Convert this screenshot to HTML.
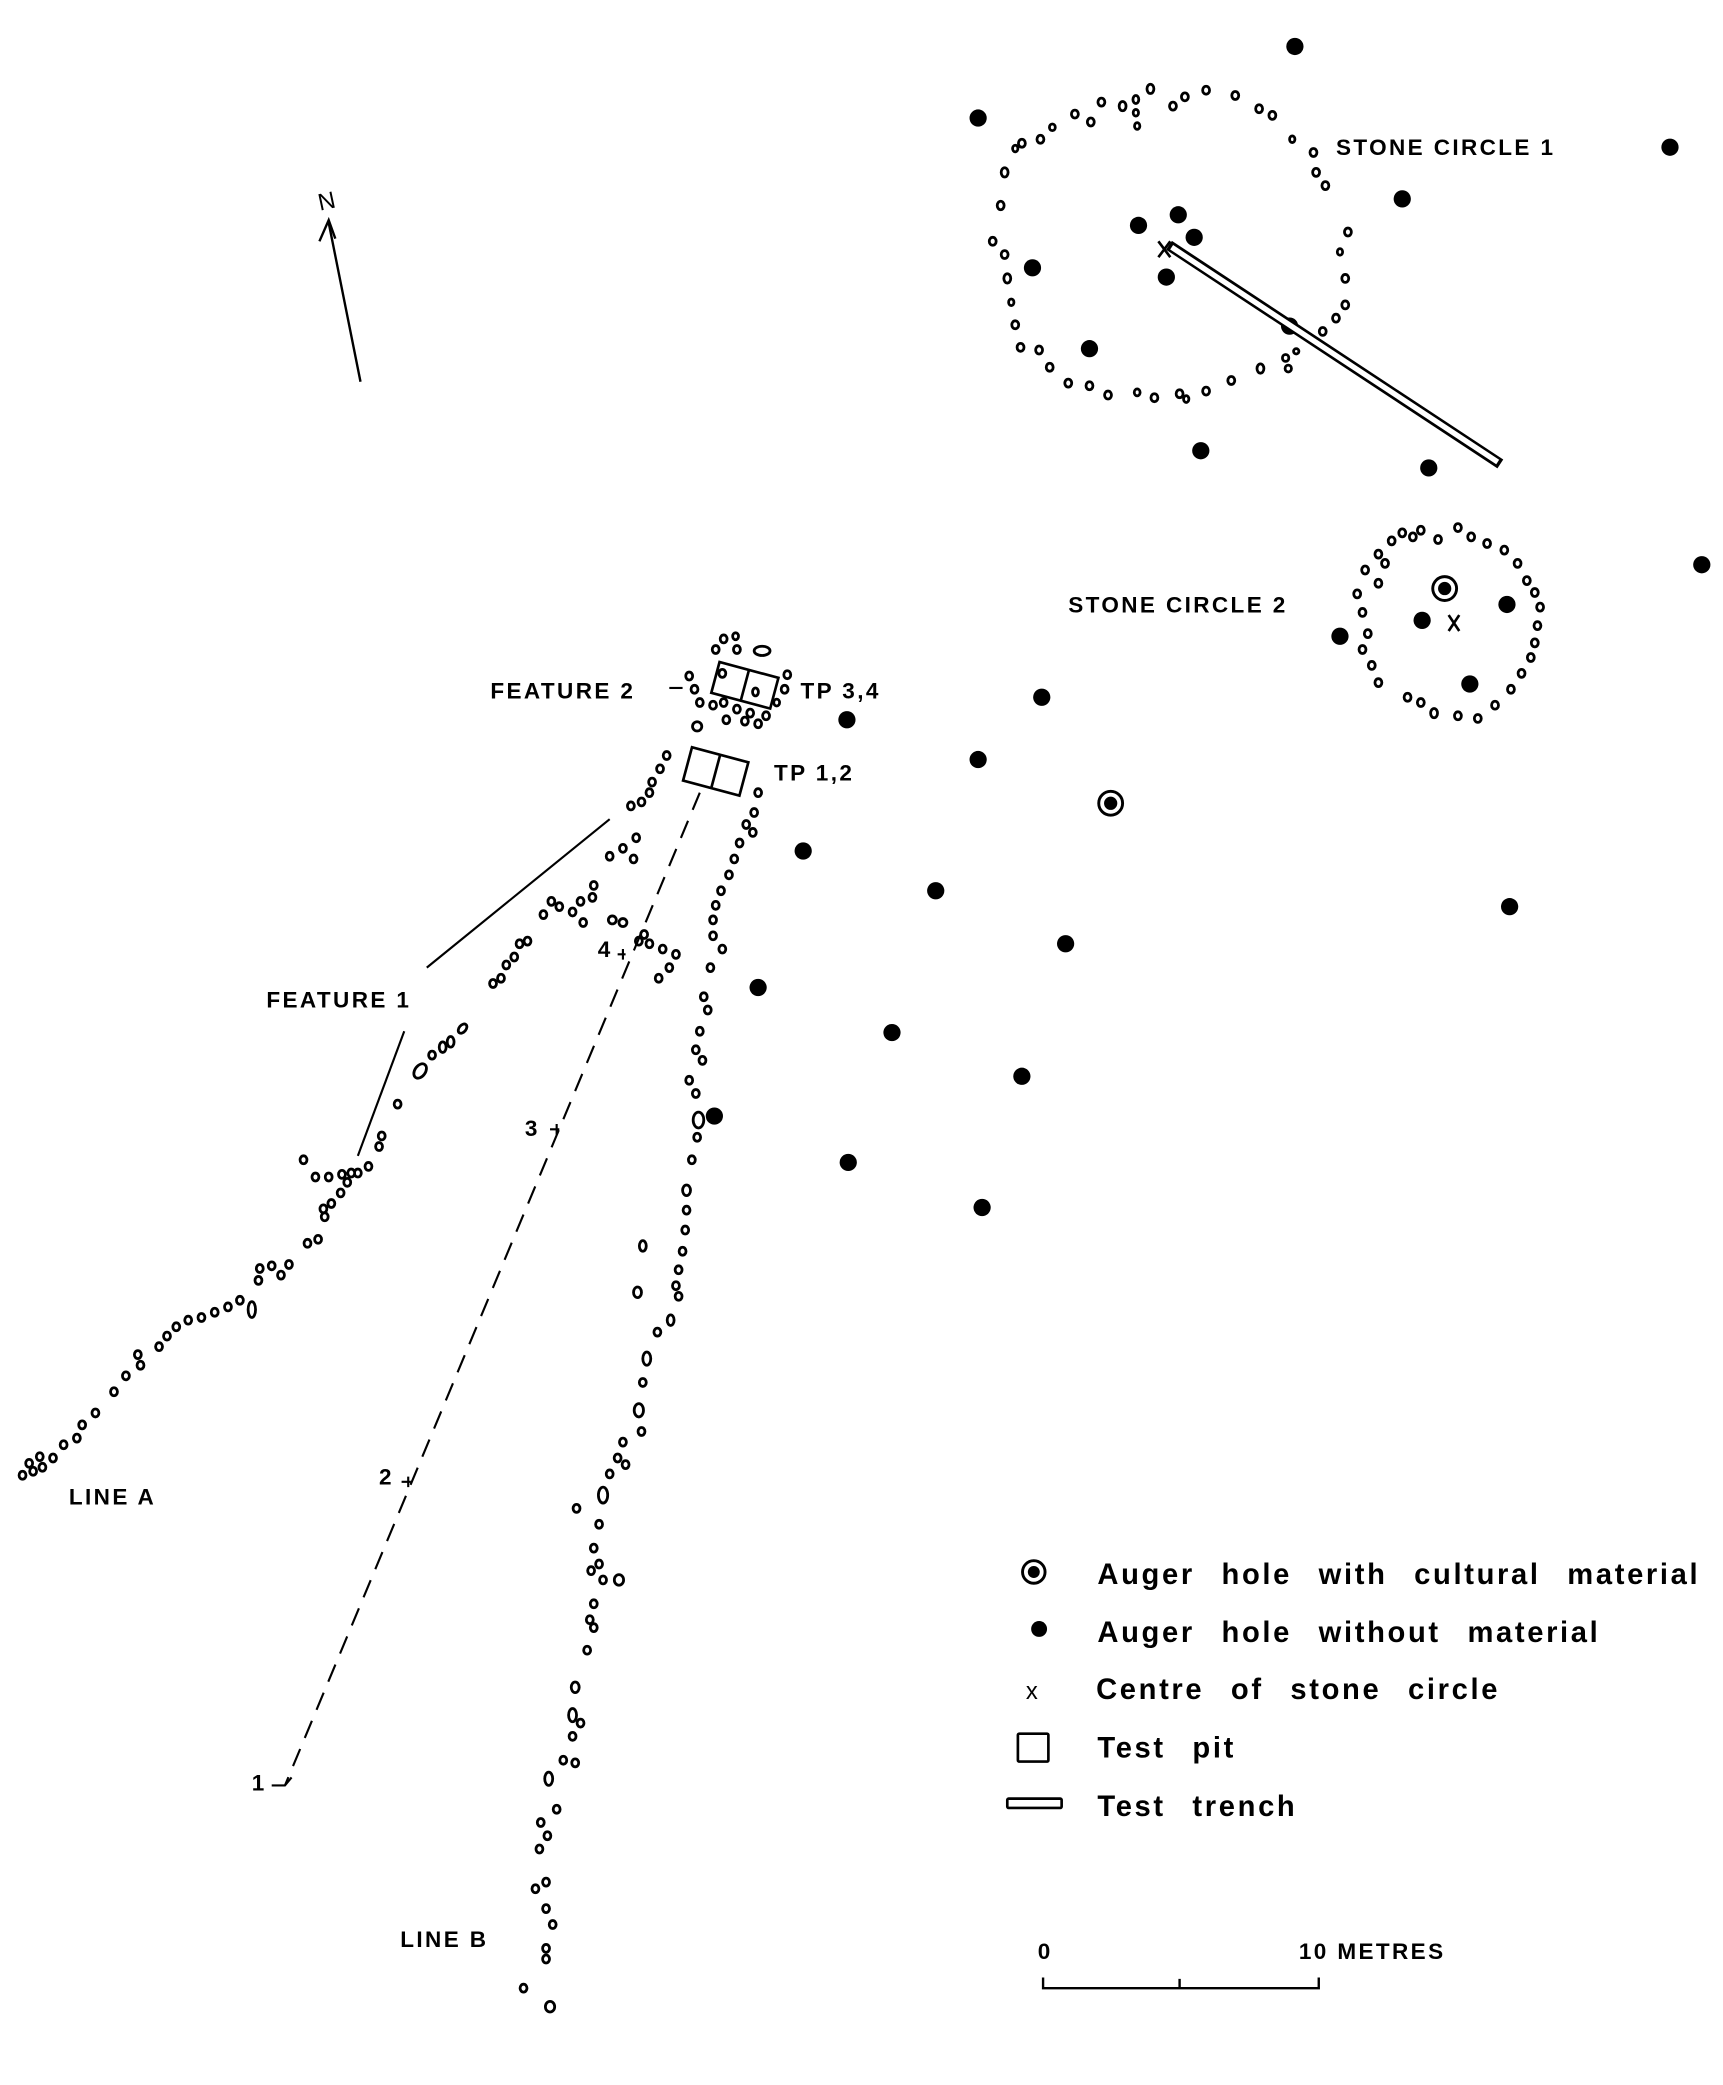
<!DOCTYPE html>
<html><head><meta charset="utf-8"><style>html,body{margin:0;padding:0;background:#fff}svg{display:block}text{font-family:"Liberation Sans",sans-serif;fill:#000}</style></head><body>
<svg width="1723" height="2085" viewBox="0 0 1300 1573" xmlns="http://www.w3.org/2000/svg">
<rect width="1300" height="1573" fill="#fff"/>
<g fill="#fff" stroke="#000" stroke-width="2.1" id="stones">
<g>
<ellipse cx="758" cy="130" rx="2.6" ry="3.5"/><ellipse cx="755" cy="155" rx="2.6" ry="3.2"/><ellipse cx="749" cy="182" rx="2.6" ry="3"/><ellipse cx="758" cy="192" rx="2.6" ry="3"/><ellipse cx="760" cy="210" rx="2.6" ry="3.5"/><ellipse cx="763" cy="228" rx="2" ry="2.5"/><ellipse cx="766" cy="245" rx="2.6" ry="3"/><ellipse cx="770" cy="262" rx="2.6" ry="3"/><ellipse cx="784" cy="264" rx="2.6" ry="3"/><ellipse cx="792" cy="277" rx="2.6" ry="3"/><ellipse cx="806" cy="289" rx="2.6" ry="3"/><ellipse cx="822" cy="291" rx="2.6" ry="3"/><ellipse cx="836" cy="298" rx="2.6" ry="3"/><ellipse cx="858" cy="296" rx="2.2" ry="2.6"/><ellipse cx="871" cy="300" rx="2.6" ry="3"/><ellipse cx="890" cy="297" rx="2.6" ry="3"/><ellipse cx="895" cy="301" rx="2" ry="2.6"/><ellipse cx="910" cy="295" rx="2.6" ry="3"/><ellipse cx="929" cy="287" rx="2.6" ry="3"/><ellipse cx="951" cy="278" rx="2.6" ry="3.5"/><ellipse cx="970" cy="270" rx="2.4" ry="2.6"/><ellipse cx="972" cy="278" rx="2.4" ry="2.6"/><ellipse cx="978" cy="265" rx="2" ry="2"/><ellipse cx="998" cy="250" rx="2.6" ry="3"/><ellipse cx="1008" cy="240" rx="2.6" ry="3"/><ellipse cx="1015" cy="230" rx="2.6" ry="3"/><ellipse cx="1015" cy="210" rx="2.6" ry="3"/><ellipse cx="1017" cy="175" rx="2.6" ry="3"/><ellipse cx="1011" cy="190" rx="2" ry="2.5"/><ellipse cx="1000" cy="140" rx="2.6" ry="3"/><ellipse cx="993" cy="130" rx="2.6" ry="3"/><ellipse cx="991" cy="115" rx="2.6" ry="3"/><ellipse cx="975" cy="105" rx="2" ry="2.5"/><ellipse cx="960" cy="87" rx="2.6" ry="3"/><ellipse cx="950" cy="82" rx="2.6" ry="3"/><ellipse cx="932" cy="72" rx="2.6" ry="3"/><ellipse cx="910" cy="68" rx="2.6" ry="3"/><ellipse cx="894" cy="73" rx="2.6" ry="3"/><ellipse cx="885" cy="80" rx="2.6" ry="3"/><ellipse cx="868" cy="67" rx="2.6" ry="3.5"/><ellipse cx="857" cy="75" rx="2.2" ry="3"/><ellipse cx="847" cy="80" rx="2.6" ry="3.5"/><ellipse cx="858" cy="95" rx="2" ry="2.5"/><ellipse cx="857" cy="85" rx="2" ry="2.5"/><ellipse cx="831" cy="77" rx="2.6" ry="3"/><ellipse cx="823" cy="92" rx="2.6" ry="3"/><ellipse cx="811" cy="86" rx="2.6" ry="3"/><ellipse cx="794" cy="96" rx="2.2" ry="2.5"/><ellipse cx="785" cy="105" rx="2.6" ry="3"/><ellipse cx="771" cy="108" rx="2.6" ry="3"/><ellipse cx="766" cy="112" rx="2" ry="2.5"/>
</g>
<g>
<ellipse cx="1030" cy="430" rx="2.6" ry="3"/><ellipse cx="1040" cy="418" rx="2.6" ry="3"/><ellipse cx="1050" cy="408" rx="2.6" ry="3"/><ellipse cx="1058" cy="402" rx="2.6" ry="3"/><ellipse cx="1066" cy="405" rx="2.6" ry="3"/><ellipse cx="1072" cy="400" rx="2.6" ry="3"/><ellipse cx="1085" cy="407" rx="2.6" ry="3"/><ellipse cx="1100" cy="398" rx="2.6" ry="3"/><ellipse cx="1110" cy="405" rx="2.6" ry="3"/><ellipse cx="1122" cy="410" rx="2.6" ry="3"/><ellipse cx="1135" cy="415" rx="2.6" ry="3"/><ellipse cx="1145" cy="425" rx="2.6" ry="3"/><ellipse cx="1152" cy="438" rx="2.6" ry="3"/><ellipse cx="1158" cy="447" rx="2.6" ry="3"/><ellipse cx="1162" cy="458" rx="2.6" ry="3"/><ellipse cx="1160" cy="472" rx="2.6" ry="3"/><ellipse cx="1158" cy="485" rx="2.6" ry="3"/><ellipse cx="1155" cy="496" rx="2.6" ry="3"/><ellipse cx="1148" cy="508" rx="2.6" ry="3"/><ellipse cx="1140" cy="520" rx="2.6" ry="3"/><ellipse cx="1128" cy="532" rx="2.6" ry="3"/><ellipse cx="1115" cy="542" rx="2.6" ry="3"/><ellipse cx="1100" cy="540" rx="2.6" ry="3"/><ellipse cx="1082" cy="538" rx="2.6" ry="3.5"/><ellipse cx="1072" cy="530" rx="2.6" ry="3"/><ellipse cx="1062" cy="526" rx="2.6" ry="3"/><ellipse cx="1040" cy="515" rx="2.6" ry="3"/><ellipse cx="1035" cy="502" rx="2.6" ry="3"/><ellipse cx="1028" cy="490" rx="2.6" ry="3"/><ellipse cx="1032" cy="478" rx="2.6" ry="3"/><ellipse cx="1028" cy="462" rx="2.6" ry="3"/><ellipse cx="1024" cy="448" rx="2.6" ry="3"/><ellipse cx="1040" cy="440" rx="2.6" ry="3"/><ellipse cx="1045" cy="425" rx="2.6" ry="3"/>
</g>
<g>
<ellipse cx="540" cy="490" rx="2.6" ry="3"/><ellipse cx="546" cy="482" rx="2.6" ry="3"/><ellipse cx="556" cy="490" rx="2.6" ry="3"/><ellipse cx="555" cy="480" rx="2.2" ry="2.6"/><ellipse cx="575" cy="491" rx="6" ry="3.5"/><ellipse cx="520" cy="510" rx="2.6" ry="3"/><ellipse cx="524" cy="520" rx="2.6" ry="3"/><ellipse cx="528" cy="530" rx="2.6" ry="3"/><ellipse cx="538" cy="532" rx="2.6" ry="3"/><ellipse cx="546" cy="530" rx="2.6" ry="3"/><ellipse cx="556" cy="535" rx="2.6" ry="3"/><ellipse cx="566" cy="538" rx="2.6" ry="3"/><ellipse cx="578" cy="540" rx="2.6" ry="3"/><ellipse cx="548" cy="543" rx="2.6" ry="3"/><ellipse cx="562" cy="544" rx="2.6" ry="3"/><ellipse cx="572" cy="546" rx="2.6" ry="3"/><ellipse cx="526" cy="548" rx="3.5" ry="3.5"/><ellipse cx="592" cy="520" rx="2.6" ry="3"/><ellipse cx="594" cy="509" rx="2.6" ry="3"/><ellipse cx="586" cy="530" rx="2.2" ry="2.6"/><ellipse cx="545" cy="508" rx="2.6" ry="3"/><ellipse cx="570" cy="522" rx="2.2" ry="3"/>
</g>
<g>
<ellipse cx="17" cy="1113" rx="2.6" ry="3"/><ellipse cx="25" cy="1110" rx="2.6" ry="3"/><ellipse cx="32" cy="1107" rx="2.6" ry="3"/><ellipse cx="22" cy="1104" rx="2.6" ry="3"/><ellipse cx="30" cy="1099" rx="2.6" ry="3"/><ellipse cx="40" cy="1100" rx="2.6" ry="3"/><ellipse cx="48" cy="1090" rx="2.6" ry="3"/><ellipse cx="58" cy="1085" rx="2.6" ry="3"/><ellipse cx="62" cy="1075" rx="2.6" ry="3"/><ellipse cx="72" cy="1066" rx="2.6" ry="3"/><ellipse cx="86" cy="1050" rx="2.6" ry="3"/><ellipse cx="95" cy="1038" rx="2.6" ry="3"/><ellipse cx="104" cy="1022" rx="2.6" ry="3"/><ellipse cx="106" cy="1030" rx="2.6" ry="3"/><ellipse cx="120" cy="1016" rx="2.6" ry="3"/><ellipse cx="126" cy="1008" rx="2.6" ry="3"/><ellipse cx="133" cy="1001" rx="2.6" ry="3"/><ellipse cx="142" cy="996" rx="2.6" ry="3"/><ellipse cx="152" cy="994" rx="2.6" ry="3"/><ellipse cx="162" cy="990" rx="2.6" ry="3"/><ellipse cx="172" cy="986" rx="2.6" ry="3"/><ellipse cx="181" cy="981" rx="2.6" ry="3"/><ellipse cx="190" cy="988" rx="2.8" ry="6"/><ellipse cx="195" cy="966" rx="2.6" ry="3"/><ellipse cx="205" cy="955" rx="2.6" ry="3"/><ellipse cx="212" cy="962" rx="2.6" ry="3"/><ellipse cx="196" cy="957" rx="2.6" ry="3"/><ellipse cx="218" cy="954" rx="2.6" ry="3"/><ellipse cx="232" cy="938" rx="2.6" ry="3"/><ellipse cx="240" cy="935" rx="2.6" ry="3"/><ellipse cx="245" cy="918" rx="2.6" ry="3"/><ellipse cx="250" cy="908" rx="2.6" ry="3"/><ellipse cx="257" cy="900" rx="2.6" ry="3"/><ellipse cx="262" cy="892" rx="2.6" ry="3"/><ellipse cx="270" cy="885" rx="2.6" ry="3"/><ellipse cx="278" cy="880" rx="2.6" ry="3"/><ellipse cx="286" cy="865" rx="2.6" ry="3"/><ellipse cx="288" cy="857" rx="2.6" ry="3"/><ellipse cx="229" cy="875" rx="2.6" ry="3"/><ellipse cx="238" cy="888" rx="2.6" ry="3"/><ellipse cx="248" cy="888" rx="2.6" ry="3"/><ellipse cx="258" cy="886" rx="2.6" ry="3"/><ellipse cx="265" cy="885" rx="2.6" ry="3"/><ellipse cx="244" cy="912" rx="2.6" ry="3"/>
<ellipse cx="300" cy="833" rx="2.6" ry="3"/><ellipse cx="317" cy="808" rx="4" ry="6" transform="rotate(35 317 808)"/><ellipse cx="326" cy="796" rx="2.6" ry="3"/><ellipse cx="334" cy="790" rx="2.6" ry="4"/><ellipse cx="340" cy="786" rx="2.6" ry="4"/><ellipse cx="349" cy="776" rx="2.6" ry="4" transform="rotate(40 349 776)"/><ellipse cx="372" cy="742" rx="2.6" ry="3"/><ellipse cx="378" cy="738" rx="2.6" ry="3"/><ellipse cx="382" cy="728" rx="2.6" ry="3"/><ellipse cx="388" cy="722" rx="2.6" ry="3"/><ellipse cx="392" cy="712" rx="2.6" ry="3"/><ellipse cx="398" cy="710" rx="2.6" ry="3"/><ellipse cx="410" cy="690" rx="2.6" ry="3"/><ellipse cx="416" cy="680" rx="2.6" ry="3"/><ellipse cx="422" cy="684" rx="2.6" ry="3"/><ellipse cx="432" cy="688" rx="2.6" ry="3"/><ellipse cx="438" cy="680" rx="2.6" ry="3"/><ellipse cx="440" cy="696" rx="2.6" ry="3"/><ellipse cx="447" cy="677" rx="2.6" ry="3"/><ellipse cx="448" cy="668" rx="2.6" ry="3"/><ellipse cx="462" cy="694" rx="3" ry="3"/><ellipse cx="470" cy="696" rx="3" ry="3"/><ellipse cx="470" cy="640" rx="2.6" ry="3"/><ellipse cx="480" cy="632" rx="2.6" ry="3"/><ellipse cx="478" cy="648" rx="2.6" ry="3"/><ellipse cx="476" cy="608" rx="2.6" ry="3"/><ellipse cx="484" cy="605" rx="2.6" ry="3"/><ellipse cx="490" cy="598" rx="2.6" ry="3"/><ellipse cx="492" cy="590" rx="2.6" ry="3"/><ellipse cx="498" cy="580" rx="2.6" ry="3"/><ellipse cx="503" cy="570" rx="2.6" ry="3"/><ellipse cx="486" cy="705" rx="2.6" ry="3"/><ellipse cx="482" cy="710" rx="2.6" ry="3"/><ellipse cx="490" cy="712" rx="2.6" ry="3"/><ellipse cx="500" cy="716" rx="2.6" ry="3"/><ellipse cx="510" cy="720" rx="2.6" ry="3"/><ellipse cx="505" cy="730" rx="2.6" ry="3"/><ellipse cx="497" cy="738" rx="2.6" ry="3"/><ellipse cx="460" cy="646" rx="2.6" ry="3"/>
</g>
<g>
<ellipse cx="572" cy="598" rx="2.6" ry="3"/><ellipse cx="569" cy="613" rx="2.6" ry="3"/><ellipse cx="563" cy="622" rx="2.6" ry="3"/><ellipse cx="568" cy="628" rx="2.6" ry="3"/><ellipse cx="558" cy="636" rx="2.6" ry="3"/><ellipse cx="554" cy="648" rx="2.6" ry="3"/><ellipse cx="550" cy="660" rx="2.6" ry="3"/><ellipse cx="544" cy="672" rx="2.6" ry="3"/><ellipse cx="540" cy="683" rx="2.6" ry="3"/><ellipse cx="538" cy="694" rx="2.6" ry="3"/><ellipse cx="538" cy="706" rx="2.6" ry="3"/><ellipse cx="545" cy="716" rx="2.6" ry="3"/><ellipse cx="536" cy="730" rx="2.6" ry="3"/><ellipse cx="531" cy="752" rx="2.6" ry="3"/><ellipse cx="534" cy="762" rx="2.6" ry="3"/><ellipse cx="528" cy="778" rx="2.6" ry="3"/><ellipse cx="525" cy="792" rx="2.6" ry="3"/><ellipse cx="530" cy="800" rx="2.6" ry="3"/><ellipse cx="520" cy="815" rx="2.6" ry="3"/><ellipse cx="525" cy="825" rx="2.6" ry="3"/><ellipse cx="527" cy="845" rx="4" ry="6"/><ellipse cx="526" cy="858" rx="2.6" ry="3"/><ellipse cx="522" cy="875" rx="2.6" ry="3"/><ellipse cx="518" cy="898" rx="3" ry="4"/><ellipse cx="518" cy="913" rx="2.6" ry="3"/><ellipse cx="517" cy="928" rx="2.6" ry="3"/><ellipse cx="515" cy="944" rx="2.6" ry="3"/><ellipse cx="512" cy="958" rx="2.6" ry="3"/><ellipse cx="510" cy="970" rx="2.6" ry="3"/><ellipse cx="512" cy="978" rx="2.6" ry="3"/><ellipse cx="506" cy="996" rx="2.6" ry="4"/><ellipse cx="485" cy="940" rx="2.6" ry="4"/><ellipse cx="481" cy="975" rx="3" ry="4"/><ellipse cx="496" cy="1005" rx="2.6" ry="3"/><ellipse cx="488" cy="1025" rx="3" ry="5"/><ellipse cx="485" cy="1043" rx="2.6" ry="3"/><ellipse cx="482" cy="1064" rx="3.5" ry="5"/><ellipse cx="484" cy="1080" rx="2.6" ry="3"/><ellipse cx="470" cy="1088" rx="2.6" ry="3"/><ellipse cx="466" cy="1100" rx="2.6" ry="3"/><ellipse cx="472" cy="1105" rx="2.6" ry="3"/><ellipse cx="460" cy="1112" rx="2.6" ry="3"/><ellipse cx="455" cy="1128" rx="3.5" ry="6"/><ellipse cx="435" cy="1138" rx="2.6" ry="3"/><ellipse cx="452" cy="1150" rx="2.6" ry="3"/><ellipse cx="448" cy="1168" rx="2.6" ry="3"/><ellipse cx="452" cy="1180" rx="2.6" ry="3"/><ellipse cx="446" cy="1185" rx="2.6" ry="3"/><ellipse cx="467" cy="1192" rx="3.5" ry="4"/><ellipse cx="455" cy="1192" rx="2.6" ry="3"/><ellipse cx="448" cy="1210" rx="2.6" ry="3"/><ellipse cx="445" cy="1222" rx="2.6" ry="3"/><ellipse cx="448" cy="1228" rx="2.6" ry="3"/><ellipse cx="443" cy="1245" rx="2.6" ry="3"/><ellipse cx="434" cy="1273" rx="3" ry="4"/><ellipse cx="432" cy="1294" rx="3" ry="5"/><ellipse cx="438" cy="1300" rx="2.6" ry="3"/><ellipse cx="432" cy="1310" rx="2.6" ry="3"/><ellipse cx="434" cy="1330" rx="2.6" ry="3"/><ellipse cx="425" cy="1328" rx="2.6" ry="3"/><ellipse cx="414" cy="1342" rx="3" ry="5"/><ellipse cx="420" cy="1365" rx="2.6" ry="3"/><ellipse cx="408" cy="1375" rx="2.6" ry="3"/><ellipse cx="413" cy="1385" rx="2.6" ry="3"/><ellipse cx="407" cy="1395" rx="2.6" ry="3"/><ellipse cx="412" cy="1420" rx="2.6" ry="3"/><ellipse cx="404" cy="1425" rx="2.6" ry="3"/><ellipse cx="412" cy="1440" rx="2.6" ry="3"/><ellipse cx="417" cy="1452" rx="2.6" ry="3"/><ellipse cx="412" cy="1470" rx="2.6" ry="3"/><ellipse cx="412" cy="1478" rx="2.6" ry="3"/><ellipse cx="395" cy="1500" rx="2.6" ry="3"/><ellipse cx="415" cy="1514" rx="3.5" ry="4"/>
</g>
</g>
<g fill="#000">
<circle cx="977" cy="35" r="6.5"/><circle cx="738" cy="89" r="6.5"/><circle cx="1260" cy="111" r="6.5"/><circle cx="1058" cy="150" r="6.5"/><circle cx="859" cy="170" r="6.5"/><circle cx="889" cy="162" r="6.5"/><circle cx="901" cy="179" r="6.5"/><circle cx="880" cy="209" r="6.5"/><circle cx="779" cy="202" r="6.5"/><circle cx="822" cy="263" r="6.5"/><circle cx="973" cy="246" r="6.5"/><circle cx="906" cy="340" r="6.5"/><circle cx="1078" cy="353" r="6.5"/><circle cx="1284" cy="426" r="6.5"/><circle cx="1011" cy="480" r="6.5"/><circle cx="1073" cy="468" r="6.5"/><circle cx="1137" cy="456" r="6.5"/><circle cx="1109" cy="516" r="6.5"/><circle cx="639" cy="543" r="6.5"/><circle cx="786" cy="526" r="6.5"/><circle cx="738" cy="573" r="6.5"/><circle cx="606" cy="642" r="6.5"/><circle cx="706" cy="672" r="6.5"/><circle cx="804" cy="712" r="6.5"/><circle cx="1139" cy="684" r="6.5"/><circle cx="572" cy="745" r="6.5"/><circle cx="673" cy="779" r="6.5"/><circle cx="771" cy="812" r="6.5"/><circle cx="539" cy="842" r="6.5"/><circle cx="640" cy="877" r="6.5"/><circle cx="741" cy="911" r="6.5"/>
<circle cx="838" cy="606" r="5"/><circle cx="1090" cy="444" r="5"/>
</g>
<g fill="none" stroke="#000" stroke-width="2.2">
<circle cx="838" cy="606" r="9"/><circle cx="1090" cy="444" r="9"/>
</g>
<line x1="882" y1="185" x2="1132" y2="350" stroke="#000" stroke-width="8"/>
<line x1="884" y1="186.5" x2="1130" y2="348.5" stroke="#fff" stroke-width="4"/>
<g stroke="#000" stroke-width="2" fill="none">
<path d="M874 182 L883 194 M883 182 L874 194"/>
<path d="M1093 464 L1101 476 M1101 464 L1093 476"/>
</g>
<g fill="none" stroke="#000" stroke-width="2">
<g transform="translate(562,517) rotate(15)"><rect x="-23" y="-12" width="46" height="24"/><line x1="0" y1="-12" x2="0" y2="12"/></g>
<g transform="translate(540,582) rotate(15)"><rect x="-22" y="-13" width="44" height="26"/><line x1="0" y1="-13" x2="0" y2="13"/></g>
</g>
<line x1="528" y1="598" x2="215" y2="1347" stroke="#000" stroke-width="1.6" stroke-dasharray="14,9"/>
<g stroke="#000" stroke-width="1.6" fill="none">
<path d="M466 720 h6 M470 716 v8"/><path d="M415 852 h7 M420 848 v8"/><path d="M303 1118 h7 M308 1114 v8"/><path d="M205 1347 h10 l5 -6"/>
</g>
<g stroke="#000" stroke-width="1.6">
<line x1="322" y1="730" x2="460" y2="618"/><line x1="270" y1="872" x2="305" y2="778"/><line x1="505" y1="519" x2="515" y2="519"/>
</g>
<g stroke="#000" stroke-width="1.8" fill="none"><line x1="272" y1="288" x2="248" y2="168"/><path d="M241 182 L248 166 L253 180"/></g>
<text x="240" y="158" font-size="18" transform="rotate(-12 245 152)">N</text>
<g font-size="17" letter-spacing="1.8" font-weight="600">
<text x="1008" y="117">STONE CIRCLE 1</text>
<text x="806" y="462">STONE CIRCLE 2</text>
<text x="370" y="527">FEATURE 2</text>
<text x="604" y="527">TP 3,4</text>
<text x="584" y="589">TP 1,2</text>
<text x="201" y="760">FEATURE 1</text>
<text x="52" y="1135">LINE A</text>
<text x="302" y="1469">LINE B</text>
<text x="783" y="1478">0</text>
<text x="980" y="1478">10 METRES</text>
</g>
<g font-size="17" font-weight="600"><text x="451" y="722">4</text><text x="396" y="857">3</text><text x="286" y="1120">2</text><text x="190" y="1351">1</text></g>
<circle cx="780" cy="1186" r="4.5" fill="#000"/><circle cx="780" cy="1186" r="8.5" fill="none" stroke="#000" stroke-width="2.2"/>
<circle cx="784" cy="1229" r="6" fill="#000"/>
<text x="774" y="1282" font-size="18">x</text>
<rect x="768" y="1308" width="23" height="21" fill="none" stroke="#000" stroke-width="2" rx="1"/>
<rect x="760" y="1357" width="41" height="7" fill="none" stroke="#000" stroke-width="2" rx="1"/>
<g font-size="22" letter-spacing="2" word-spacing="12" font-weight="600">
<text x="828" y="1195">Auger hole with cultural material</text>
<text x="828" y="1239">Auger hole without material</text>
<text x="827" y="1282">Centre of stone circle</text>
<text x="828" y="1326">Test pit</text>
<text x="828" y="1370">Test trench</text>
</g>
<path d="M787 1492 v8 h208 v-8 M890 1493 v7" fill="none" stroke="#000" stroke-width="1.8"/>
</svg>
</body></html>
